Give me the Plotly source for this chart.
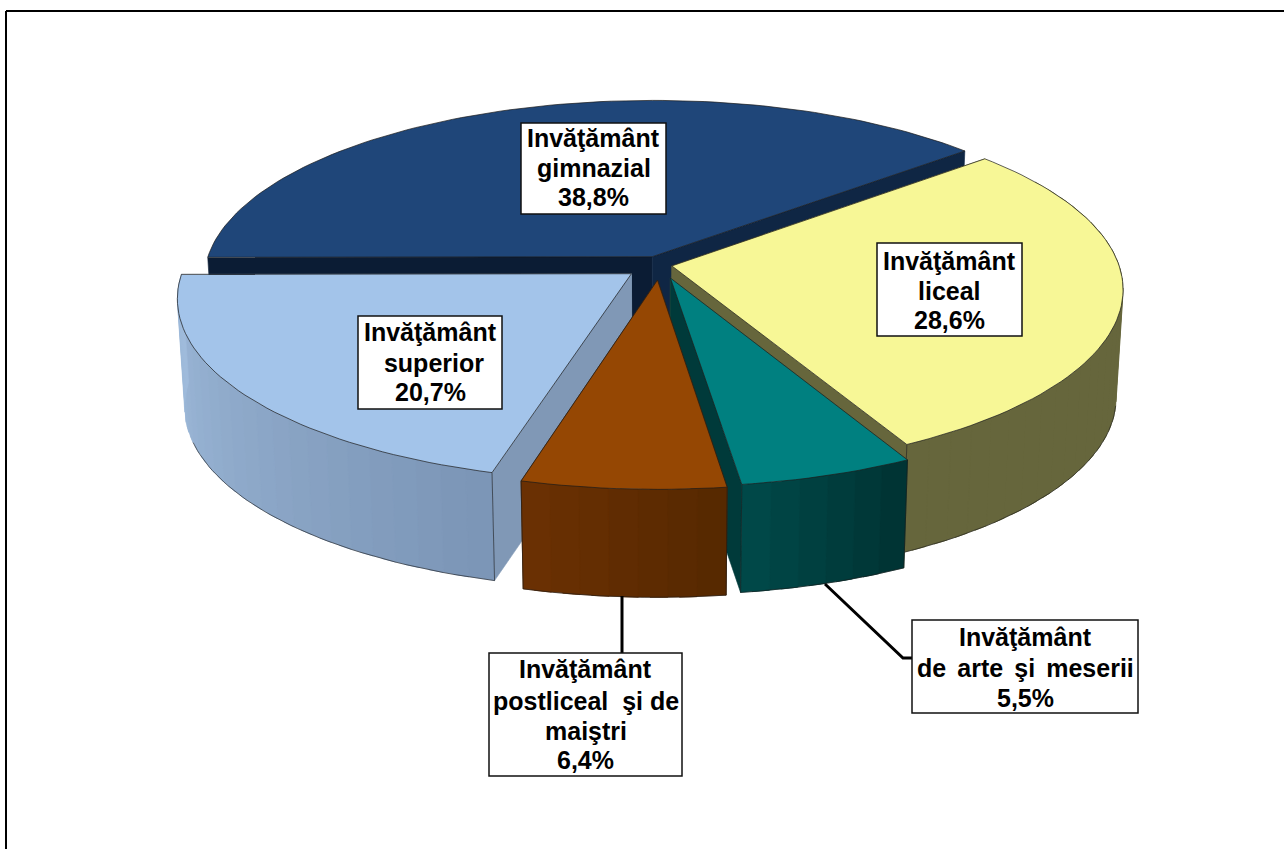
import math
import plotly.graph_objects as go

# ---- data ----
categories = ["Invăţământ gimnazial", "Invăţământ liceal", "Invăţământ de arte şi meserii",
              "Invăţământ postliceal şi de maiştri", "Invăţământ superior"]
values = [38.8, 28.6, 5.5, 6.4, 20.7]
label_lines = [["Invăţământ", "gimnazial"], ["Invăţământ", "liceal"],
               ["Invăţământ", "de\u00a0\u2006arte\u00a0\u2006şi\u00a0\u2006meserii"],
               ["Invăţământ", "postliceal\u00a0 şi de", "maiştri"], ["Invăţământ", "\u00a0superior"]]

# ---- style ----
explode = [0.05, 0.027, 0.076, 0.084, 0.08]
top_col = ["#1f4679", "#f7f796", "#008080", "#954703", "#a3c4ea"]
wall_from = ["#0c1d36", "#66663c", "#003232", "#552800", "#7b95b6"]
wall_to = ["#0c1d36", "#66663c", "#004a4a", "#6c3103", "#a0bcdc"]
cut_start = ["#0b1c34", "#66663c", "#66663c", "#552800", "#8098b6"]
cut_end = ["#0f2644", "#66663c", "#003a3a", "#552800", "#8098b6"]
paint_order = [0, 1, 4, 2, 3]
box_px = [(521, 123, 666, 214), (877, 243, 1022, 336), (912, 620, 1138, 713),
          (489, 653, 682, 776), (358, 316, 502, 409)]
line_y = [[138, 168, 197], [261, 291, 320], [637, 668, 698], [669, 701, 731, 760], [332, 363, 392]]
START = -90.2
CX, CY, RX, RY, K = 660, 265, 447, 178.3, 0.128
DEPTH, SHRINK = 108, 0.985
EDGE = "#1a1a1a"


def project(u, v, bottom=False):
    s = 1 / (1 + K * v)
    x = CX + RX * u * s
    y = CY - RY * v * s
    if bottom:
        x = CX + (x - CX) * SHRINK
        y = y + DEPTH
    return x, y


def mix(a, b, t):
    ca = [int(a[i:i + 2], 16) for i in (1, 3, 5)]
    cb = [int(b[i:i + 2], 16) for i in (1, 3, 5)]
    return "#%02x%02x%02x" % tuple(round(p + (q - p) * t) for p, q in zip(ca, cb))


def rim(i, deg, bottom=False):
    a, p = math.radians(deg), explode[i]
    ma = math.radians(mid[i])
    return project(math.sin(a) + p * math.sin(ma), math.cos(a) + p * math.cos(ma), bottom)


def apex(i, bottom=False):
    ma = math.radians(mid[i])
    return project(explode[i] * math.sin(ma), explode[i] * math.cos(ma), bottom)


def poly(fig, pts, fill, line=None, width=0.6, name=None):
    xs = [p[0] for p in pts] + [pts[0][0]]
    ys = [p[1] for p in pts] + [pts[0][1]]
    fig.add_trace(go.Scatter(x=xs, y=ys, mode="lines", fill="toself", fillcolor=fill,
                             line=dict(color=line or fill, width=width),
                             hoverinfo="text" if name else "skip", text=name, showlegend=False))


def stroke(fig, pts, width=0.6, color=EDGE):
    fig.add_trace(go.Scatter(x=[p[0] for p in pts], y=[p[1] for p in pts], mode="lines",
                             line=dict(color=color, width=width), hoverinfo="skip", showlegend=False))


starts, ends, mid = [], [], []
acc = START
for v in values:
    starts.append(acc)
    acc += v * 3.6
    ends.append(acc)
    mid.append((starts[-1] + ends[-1]) / 2)

fig = go.Figure()
for i in paint_order:
    a0, a1 = starts[i], ends[i]
    # cut faces, the one further back first
    faces = [(a0, cut_start[i]), (a1, cut_end[i])]
    if i == 4:
        faces.reverse()
    for ang, col in faces:
        poly(fig, [apex(i), rim(i, ang), rim(i, ang, True), apex(i, True)], col)
    # outer wall, front part only
    w0, w1 = max(a0, 60), min(a1, 300)
    if w1 > w0 and i != 0:
        steps = 60
        ts = [w0 + (w1 - w0) * j / steps for j in range(steps + 1)]
        n = max(3, int((w1 - w0) / 3))
        for j in range(n):
            d0 = w0 + (w1 - w0) * j / n
            d1 = min(w0 + (w1 - w0) * (j + 1.6) / n, w1)
            c = mix(wall_from[i], wall_to[i], (j + 0.5) / n)
            seg = [d0 + (d1 - d0) * q / 4 for q in range(5)]
            poly(fig, [rim(i, d) for d in seg] + [rim(i, d, True) for d in reversed(seg)], c)
        # lower rim and corners
        low = [d for d in ts if 100 <= d <= 252]
        if low:
            stroke(fig, [rim(i, d, True) for d in low])
        if a0 > 90:
            stroke(fig, [rim(i, a0), rim(i, a0, True)])
        if a1 < 260:
            stroke(fig, [rim(i, a1), rim(i, a1, True)])
    # top
    n = max(6, int((a1 - a0) / 1.5))
    pts = [apex(i)] + [rim(i, a0 + (a1 - a0) * j / n) for j in range(n + 1)]
    poly(fig, pts, top_col[i], EDGE, 0.7, f"{categories[i]}: {values[i]}%")

shapes = [
    dict(type="line", x0=6, y0=11, x1=1284, y1=11, line=dict(color="black", width=2)),
    dict(type="line", x0=6, y0=11, x1=6, y1=849, line=dict(color="black", width=2)),
    dict(type="line", x0=622, y0=596, x1=622, y1=653, line=dict(color="black", width=3)),
    dict(type="path", path="M825,584 L903,658 L912,658", line=dict(color="black", width=3)),
]
annotations = []
for i, (x0, y0, x1, y1) in enumerate(box_px):
    shapes.append(dict(type="rect", x0=x0, y0=y0, x1=x1, y1=y1, fillcolor="white",
                       line=dict(color="#111111", width=1.5)))
    pct = f"{values[i]:.1f}".replace(".", ",") + "%"
    for txt, y in zip(label_lines[i] + [pct], line_y[i]):
        annotations.append(dict(x=(x0 + x1) / 2, y=y, text=f"<b>{txt}</b>", showarrow=False, xanchor="center",
                                yanchor="middle", font=dict(family="Liberation Sans", size=25, color="black"),
                                xref="x", yref="y"))

fig.update_layout(
    width=1284, height=849, margin=dict(l=0, r=0, t=0, b=0),
    paper_bgcolor="white", plot_bgcolor="white", showlegend=False,
    xaxis=dict(range=[0, 1284], visible=False, fixedrange=True),
    yaxis=dict(range=[849, 0], visible=False, fixedrange=True),
    shapes=shapes, annotations=annotations,
)
fig.write_html("out.html", config=dict(displayModeBar=False),
               post_script="document.body.style.margin='0';document.body.style.overflow='hidden';")
